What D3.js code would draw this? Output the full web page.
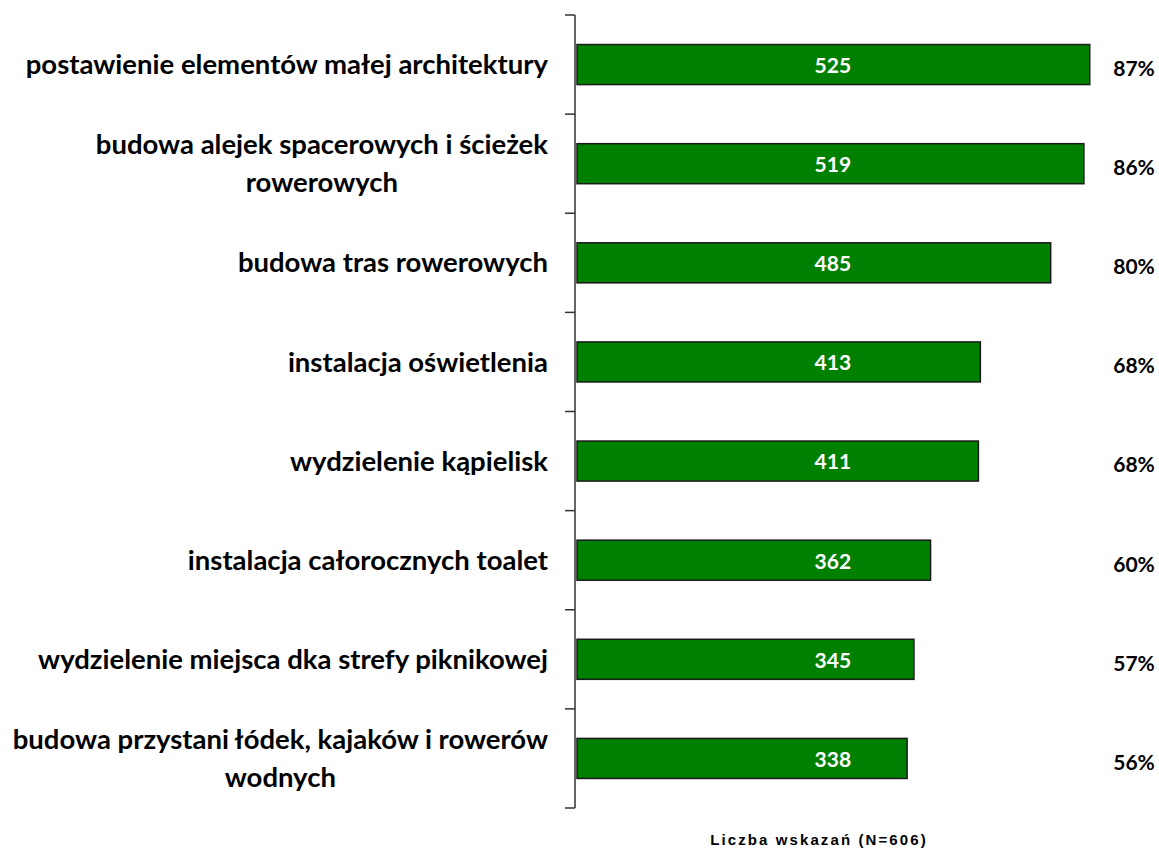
<!DOCTYPE html>
<html>
<head>
<meta charset="utf-8">
<script src="https://cdn.jsdelivr.net/npm/d3@7"></script>
<style>
  body { margin: 0; background: #fff; }
  svg { display: block; }
  .cat { font-family: Lato, "Open Sans", sans-serif; font-weight: bold; font-size: 27.5px; fill: #000; }
  .val { font-family: Lato, "Open Sans", sans-serif; font-weight: bold; font-size: 21px; fill: #fff; }
  .pct { font-family: Lato, "Open Sans", sans-serif; font-weight: bold; font-size: 21px; fill: #000; }
  .xtitle { font-family: "Liberation Sans", Arial, sans-serif; font-weight: bold; font-size: 15px; letter-spacing: 2.1px; }
</style>
</head>
<body>
<svg id="chart" width="1159" height="849"></svg>
<script>
// categories, wrapped where the original wraps them
var categories = [
  ["postawienie elementów małej architektury"],
  ["budowa alejek spacerowych i ścieżek", "rowerowych"],
  ["budowa tras rowerowych"],
  ["instalacja oświetlenia"],
  ["wydzielenie kąpielisk"],
  ["instalacja całorocznych toalet"],
  ["wydzielenie miejsca dka strefy piknikowej"],
  ["budowa przystani łódek, kajaków i rowerów", "wodnych"]
];
var counts = [525, 519, 485, 413, 411, 362, 345, 338];
var percents = ["87%", "86%", "80%", "68%", "68%", "60%", "57%", "56%"];
var axisTitle = "Liczba wskazań (N=606)";

var svg = d3.select("#chart");
var margin = {top: 15, left: 575, bottom: 41};
var height = 849;

var x = d3.scaleLinear()
    .domain([0, 600])
    .range([margin.left + 2, margin.left + 2 + 586]);

var y = d3.scaleBand()
    .domain(d3.range(counts.length))
    .range([margin.top, height - margin.bottom])
    .paddingInner(0.596)
    .paddingOuter(0.298);

// bars
svg.append("g")
  .selectAll("rect")
  .data(counts)
  .enter().append("rect")
  .attr("x", x(0))
  .attr("y", function(d, i) { return y(i); })
  .attr("width", function(d) { return x(d) - x(0); })
  .attr("height", y.bandwidth())
  .attr("fill", "#008000")
  .attr("stroke", "#1a1a1a")
  .attr("stroke-width", 1.5);

// y axis line + ticks between categories
var step = y.step();
var axisG = svg.append("g");
axisG.append("line")
  .attr("x1", margin.left).attr("x2", margin.left)
  .attr("y1", margin.top).attr("y2", height - margin.bottom)
  .attr("stroke", "#333").attr("stroke-width", 1.5);
axisG.selectAll("line.tick")
  .data(d3.range(counts.length + 1))
  .enter().append("line")
  .attr("class", "tick")
  .attr("x1", margin.left - 10).attr("x2", margin.left)
  .attr("y1", function(i) { return margin.top + i * step; })
  .attr("y2", function(i) { return margin.top + i * step; })
  .attr("stroke", "#333").attr("stroke-width", 1.5);

// category labels (block right aligned, lines centred)
var lineH = 38;
categories.forEach(function(lines, i) {
  var cy = y(i) + y.bandwidth() / 2;
  var g = svg.append("g");
  var texts = lines.map(function(l, j) {
    return g.append("text")
      .attr("class", "cat")
      .attr("y", cy + (j - (lines.length - 1) / 2) * lineH)
      .attr("dy", "0.35em")
      .text(l);
  });
  var maxW = d3.max(texts, function(t) { return t.node().getComputedTextLength(); });
  var cx = 548 - maxW / 2;
  texts.forEach(function(t) { t.attr("x", cx).attr("text-anchor", "middle"); });
});

// values inside bars
svg.append("g")
  .selectAll("text")
  .data(counts)
  .enter().append("text")
  .attr("class", "val")
  .attr("x", x(262))
  .attr("y", function(d, i) { return y(i) + y.bandwidth() / 2 + 1; })
  .attr("dy", "0.35em")
  .attr("text-anchor", "middle")
  .text(function(d) { return d; });

// percentages on the right
svg.append("g")
  .selectAll("text")
  .data(percents)
  .enter().append("text")
  .attr("class", "pct")
  .attr("x", 1134)
  .attr("y", function(d, i) { return y(i) + y.bandwidth() / 2 + 4; })
  .attr("dy", "0.35em")
  .attr("text-anchor", "middle")
  .text(function(d) { return d; });

svg.append("text")
  .attr("class", "xtitle")
  .attr("x", 819)
  .attr("y", 845)
  .attr("text-anchor", "middle")
  .text(axisTitle);
</script>
</body>
</html>
